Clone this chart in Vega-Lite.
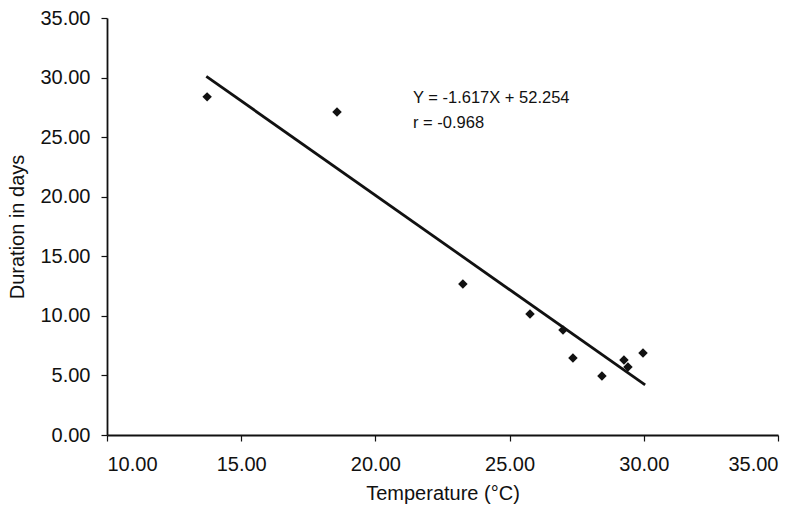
{
  "$schema": "https://vega.github.io/schema/vega-lite/v6.json",
  "width": 671,
  "height": 417,
  "autosize": {"type": "none"},
  "padding": {"left": 107, "top": 18, "right": 24, "bottom": 75},
  "background": "white",
  "config": {
    "view": {"stroke": null},
    "font": "Liberation Sans",
    "axis": {
      "grid": false,
      "domainColor": "#111",
      "domainWidth": 1.8,
      "tickColor": "#111",
      "tickSize": 6,
      "tickWidth": 1.2,
      "labelFont": "Liberation Sans",
      "labelFontSize": 20,
      "labelColor": "#111",
      "titleFont": "Liberation Sans",
      "titleFontSize": 20,
      "titleFontWeight": "normal",
      "titleColor": "#111"
    }
  },
  "datasets": {
    "obs": [
      {"temperature": 13.73, "duration": 28.38},
      {"temperature": 18.57, "duration": 27.12},
      {"temperature": 23.26, "duration": 12.68},
      {"temperature": 25.76, "duration": 10.16},
      {"temperature": 26.99, "duration": 8.82},
      {"temperature": 27.36, "duration": 6.47},
      {"temperature": 28.44, "duration": 4.95},
      {"temperature": 29.26, "duration": 6.30},
      {"temperature": 29.41, "duration": 5.71},
      {"temperature": 29.97, "duration": 6.88}
    ],
    "fit": [
      {"temperature": 13.7, "duration": 30.1},
      {"temperature": 30.05, "duration": 4.2}
    ]
  },
  "layer": [
    {
      "data": {"name": "fit"},
      "mark": {"type": "line", "color": "#111", "strokeWidth": 2.8},
      "encoding": {
        "x": {
          "field": "temperature",
          "type": "quantitative",
          "scale": {"domain": [10, 35], "nice": false, "zero": false},
          "axis": {
            "values": [10, 15, 20, 25, 30, 35],
            "format": ".2f",
            "title": "Temperature (°C)",
            "labelPadding": 13,
            "titlePadding": 9
          }
        },
        "y": {
          "field": "duration",
          "type": "quantitative",
          "scale": {"domain": [0, 35], "nice": false},
          "axis": {
            "values": [0, 5, 10, 15, 20, 25, 30, 35],
            "format": ".2f",
            "title": "Duration in days",
            "labelPadding": 11,
            "titlePadding": 12
          }
        }
      }
    },
    {
      "data": {"name": "obs"},
      "mark": {"type": "point", "shape": "diamond", "filled": true, "color": "#111", "size": 90, "opacity": 1},
      "encoding": {
        "x": {"field": "temperature", "type": "quantitative"},
        "y": {"field": "duration", "type": "quantitative"}
      }
    },
    {
      "data": {"values": [{"label": "Y = -1.617X + 52.254"}]},
      "mark": {"type": "text", "align": "left", "baseline": "middle", "fontSize": 16.5, "color": "#111", "font": "Liberation Sans"},
      "encoding": {
        "x": {"datum": 21.4},
        "y": {"datum": 28.3},
        "text": {"field": "label"}
      }
    },
    {
      "data": {"values": [{"label": "r = -0.968"}]},
      "mark": {"type": "text", "align": "left", "baseline": "middle", "fontSize": 16.5, "color": "#111", "font": "Liberation Sans"},
      "encoding": {
        "x": {"datum": 21.4},
        "y": {"datum": 26.2},
        "text": {"field": "label"}
      }
    }
  ]
}
